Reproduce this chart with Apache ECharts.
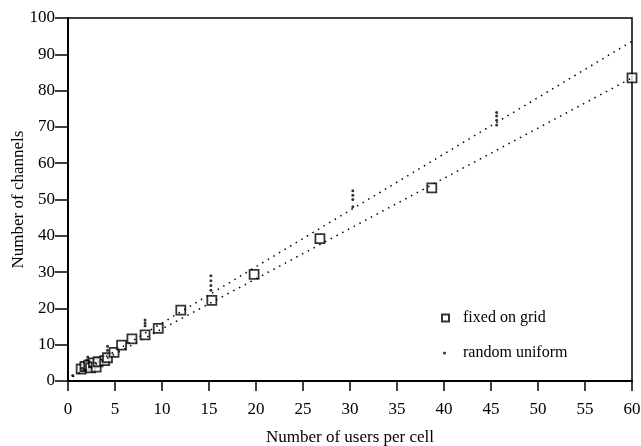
<!DOCTYPE html>
<html>
<head>
<meta charset="utf-8">
<script src="https://cdn.jsdelivr.net/npm/echarts@6/dist/echarts.min.js"></script>
<style>
  html, body { margin: 0; padding: 0; background: #fff; }
</style>
</head>
<body>
<div id="main" style="width: 641px;height:446px;"></div>
<script>
// fixed on grid: [users per cell, channels]
const gridData = [
  [1.4, 3.3], [1.8, 4.0], [2.2, 4.4], [2.4, 3.6], [2.7, 5.0], [3.0, 3.8],
  [3.2, 5.3], [3.9, 5.6], [4.2, 6.4], [4.9, 7.9], [5.7, 9.9], [6.8, 11.6],
  [8.2, 12.7], [9.6, 14.5], [12.0, 19.5], [15.3, 22.2], [19.8, 29.4],
  [26.8, 39.2], [38.7, 53.2], [60, 83.5]
]
// random uniform: several runs per cell size
const randomData = [
  [0.5, 1.5], [1.5, 3.5], [2.0, 5.8], [2.1, 6.6], [2.3, 5.2],
  [4.2, 8.5], [4.2, 9.6],
  [8.2, 15.2], [8.2, 16.0], [8.2, 16.8],
  [15.2, 25.0], [15.2, 26.3], [15.2, 27.6], [15.2, 29.0],
  [30.3, 48.0], [30.3, 50.0], [30.3, 51.2], [30.3, 52.4],
  [45.6, 70.5], [45.6, 71.8], [45.6, 73.0], [45.6, 74.0]
]
// dotted fit lines
const fitRandom = [[0.5, 1.2], [60, 93.6]]
const fitGrid = [[0.5, 1.2], [60, 83.5]]

const font = 'Liberation Serif'

let myChart = echarts.init(document.getElementById('main'))
let option = {
  animation: false,
  backgroundColor: '#fff',
  textStyle: { fontFamily: font, color: '#000' },
  grid: {
    left: 68,
    right: 9,
    top: 18,
    bottom: 65,
    outerBoundsMode: 'none',
    containLabel: false,
    show: true,
    borderColor: '#000',
    borderWidth: 1.5
  },
  legend: [
    {
      data: ['fixed on grid'],
      left: 436,
      top: 305,
      itemWidth: 7,
      itemHeight: 7,
      textStyle: { fontFamily: font, fontSize: 16, color: '#000', padding: [0, 0, 0, 9] }
    },
    {
      data: ['random uniform'],
      left: 438,
      top: 340,
      itemWidth: 3,
      itemHeight: 3,
      textStyle: { fontFamily: font, fontSize: 16, color: '#000', padding: [0, 0, 0, 12] }
    }
  ],
  xAxis: {
    type: 'value',
    min: 0,
    max: 60,
    interval: 5,
    name: 'Number of users per cell',
    nameLocation: 'middle',
    nameGap: 48,
    nameMoveOverlap: false,
    nameTextStyle: { fontFamily: font, fontSize: 17, color: '#000' },
    axisLine: { lineStyle: { color: '#000', width: 2 } },
    axisTick: { length: 10, lineStyle: { color: '#000', width: 1.5 } },
    axisLabel: { margin: 20, fontFamily: font, fontSize: 17, color: '#000' },
    splitLine: { show: false }
  },
  yAxis: {
    type: 'value',
    min: 0,
    max: 100,
    interval: 10,
    name: 'Number of channels',
    nameLocation: 'middle',
    nameGap: 41,
    nameMoveOverlap: false,
    nameTextStyle: { fontFamily: font, fontSize: 17, color: '#000' },
    axisLine: { lineStyle: { color: '#000', width: 2 } },
    axisTick: { length: 13, lineStyle: { color: '#000', width: 1.5 } },
    axisLabel: { margin: 13, fontFamily: font, fontSize: 17, color: '#000' },
    splitLine: { show: false }
  },
  series: [
    {
      name: 'fit random',
      type: 'line',
      data: fitRandom,
      symbol: 'none',
      silent: true,
      lineStyle: { color: '#000', width: 1.5, type: [1.5, 5] }
    },
    {
      name: 'fit grid',
      type: 'line',
      data: fitGrid,
      symbol: 'none',
      silent: true,
      lineStyle: { color: '#000', width: 1.5, type: [1.5, 5] }
    },
    {
      name: 'fixed on grid',
      type: 'scatter',
      symbol: 'rect',
      symbolSize: 9,
      clip: false,
      itemStyle: { color: '#fff', borderColor: '#000', borderWidth: 1.8 },
      data: gridData
    },
    {
      name: 'random uniform',
      type: 'scatter',
      symbol: 'circle',
      symbolSize: 3,
      clip: false,
      itemStyle: { color: '#000' },
      data: randomData
    }
  ]
}
myChart.setOption(option)
</script>
</body>
</html>
